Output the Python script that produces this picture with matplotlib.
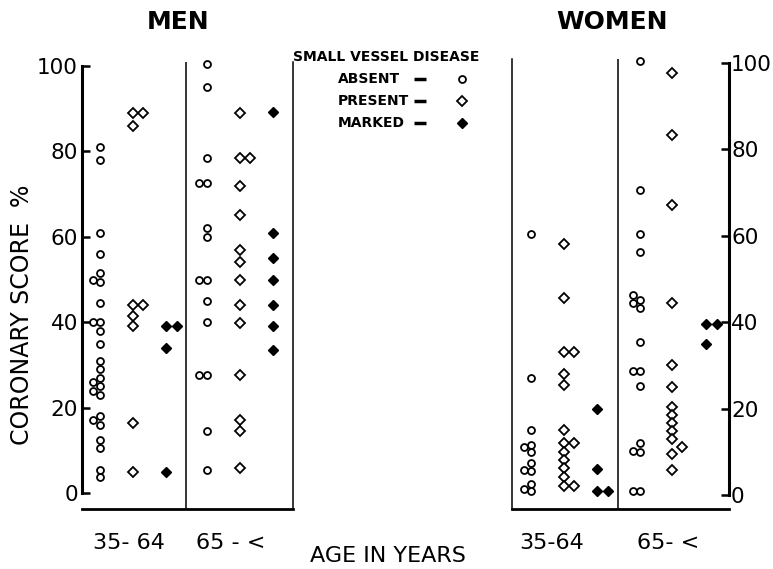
import matplotlib
matplotlib.use("Agg")
import matplotlib.pyplot as plt

W, H, DPI = 773, 569, 100

# ---------------- data (coronary score %) ----------------
panels = ["MEN", "WOMEN"]
men_age_labels = ["35- 64", "65 - <"]
women_age_labels = ["35-64", "65- <"]
legend_title = "SMALL VESSEL DISEASE"
legend_labels = ["ABSENT", "PRESENT", "MARKED"]
y_ticks = [0, 20, 40, 60, 80, 100]

men_young_absent = [81, 78, 61, 56, 51.5, 50, 49.5, 44.5, 40, 40, 38, 35, 31, 29,
                    27, 26, 25, 24, 23, 18, 17, 16, 12.5, 10.5, 5.5, 3.8]
men_young_present = [89, 89, 86, 44, 44, 41.5, 39, 16.5, 5]
men_young_marked = [39, 39, 34, 5]

men_old_absent = [100.5, 95, 78.5, 72.5, 72.5, 62, 60, 50, 50, 45, 40, 27.6, 27.6, 14.6, 5.5]
men_old_present = [89, 78.5, 78.5, 72, 65, 57, 54, 50, 44, 39.7, 27.6, 17, 14.5, 5.8]
men_old_marked = [89.3, 60.8, 55, 50, 44, 39, 33.5]

women_young_absent = [60.5, 27, 15, 11.6, 11.2, 10, 7.3, 5.9, 5.6, 2.5, 1.3, 1.0]
women_young_present = [58, 45.5, 33, 33, 28, 25.5, 15, 12, 12, 10, 8.1, 6.2, 4.2, 2, 2]
women_young_marked = [19.8, 6, 1, 1]

women_old_absent = [100.5, 70.5, 60.5, 56.3, 46.3, 45.1, 44.5, 43.4, 35.5, 28.8, 28.8,
                    25.2, 12, 10.3, 10, 1, 1]
women_old_present = [97.8, 83.3, 67.1, 44.5, 30, 25, 20.4, 18.5, 16.6, 14.7, 12.9,
                     11.2, 9.5, 5.9]
women_old_marked = [39.5, 39.5, 35]

# ---------------- styles ----------------
STY = {
    "absent": dict(marker="o", ms=5.0, mfc="white", mec="black", mew=1.3),
    "present": dict(marker="D", ms=5.0, mfc="white", mec="black", mew=1.3),
    "marked": dict(marker="D", ms=5.6, mfc="black", mec="black", mew=1.0),
}
SIDE = {"absent": -7.5, "present": 10.0, "marked": 11.0}
THR = {"absent": 6.0, "present": 7.5, "marked": 8.5}
TICK_FS = 15.5

fig = plt.figure(figsize=(W / DPI, H / DPI), dpi=DPI)
fig.patch.set_facecolor("white")


def make_axes(left_px, right_px, y0_px, y100_px, bottom_px, top_val):
    ppu = (y0_px - y100_px) / 100.0
    ymin = -(bottom_px - y0_px) / ppu
    top_px = y0_px - top_val * ppu
    ax = fig.add_axes([left_px / W, (H - bottom_px) / H,
                       (right_px - left_px) / W, (bottom_px - top_px) / H])
    ax.set_xlim(0, right_px - left_px)
    ax.set_ylim(ymin, top_val)
    ax.patch.set_alpha(0)
    return ax, ppu


def swarm(ax, values, base_x, kind, ppu):
    dx = SIDE[kind]
    thr = THR[kind]
    placed = []
    xs = [0.0] * len(values)
    for i in sorted(range(len(values)), key=lambda j: values[j]):
        v = values[i]
        k = 0
        while True:
            x = base_x + k * dx
            hit = any(abs(x - px) < abs(dx) * 0.5 and abs(v - pv) * ppu < thr
                      for px, pv in placed)
            if not hit:
                break
            k += 1
        placed.append((x, v))
        xs[i] = x
    ax.plot(xs, values, linestyle="none", clip_on=False, zorder=3, **STY[kind])


# ---------------- men ----------------
axm, ppm = make_axes(82, 293, 493, 66, 509, 101)
axm.spines["top"].set_visible(False)
axm.spines["left"].set_bounds(0, 100)
axm.spines["left"].set_linewidth(2.2)
axm.spines["bottom"].set_linewidth(2.0)
axm.spines["right"].set_linewidth(1.1)
axm.axvline(104, color="black", lw=1.1)
axm.set_yticks(y_ticks)
axm.set_yticklabels([str(t) for t in y_ticks])
axm.tick_params(axis="y", direction="in", length=6, width=1.8, labelsize=TICK_FS, pad=3,
                left=True, right=False)
axm.set_xticks([47, 149])
axm.set_xticklabels(men_age_labels)
axm.tick_params(axis="x", length=0, labelsize=16, pad=17)

swarm(axm, men_young_absent, 18, "absent", ppm)
swarm(axm, men_young_present, 51, "present", ppm)
swarm(axm, men_young_marked, 84, "marked", ppm)
swarm(axm, men_old_absent, 125, "absent", ppm)
swarm(axm, men_old_present, 158, "present", ppm)
swarm(axm, men_old_marked, 191, "marked", ppm)

# ---------------- women ----------------
axw, ppw = make_axes(512, 729, 495, 63, 509, 101)
axw.spines["top"].set_visible(False)
axw.spines["right"].set_bounds(0, 100)
axw.spines["right"].set_linewidth(2.2)
axw.spines["bottom"].set_linewidth(2.0)
axw.spines["left"].set_linewidth(1.1)
axw.axvline(106, color="black", lw=1.1)
axw.yaxis.tick_right()
axw.set_yticks(y_ticks)
axw.set_yticklabels([str(t) for t in y_ticks])
axw.tick_params(axis="y", direction="in", length=6, width=1.8, labelsize=TICK_FS, pad=1.5,
                left=False, right=True)
axw.set_xticks([40, 156])
axw.set_xticklabels(women_age_labels)
axw.tick_params(axis="x", length=0, labelsize=16, pad=17)

swarm(axw, women_young_absent, 19, "absent", ppw)
swarm(axw, women_young_present, 52, "present", ppw)
swarm(axw, women_young_marked, 85, "marked", ppw)
swarm(axw, women_old_absent, 128, "absent", ppw)
swarm(axw, women_old_present, 160, "present", ppw)
swarm(axw, women_old_marked, 194, "marked", ppw)

# ---------------- overlay for texts / legend ----------------
ov = fig.add_axes([0, 0, 1, 1])
ov.set_xlim(0, W)
ov.set_ylim(H, 0)
ov.axis("off")
ov.patch.set_alpha(0)

ov.text(178, 22, panels[0], ha="center", va="center", fontsize=18, fontweight="bold")
ov.text(612, 22, panels[1], ha="center", va="center", fontsize=18, fontweight="bold")
ov.text(22, 315, "CORONARY SCORE  %", rotation=90, ha="center", va="center", fontsize=17)
ov.text(388, 556, "AGE IN YEARS", ha="center", va="center", fontsize=16)

ov.text(386, 57, legend_title, ha="center", va="center", fontsize=10, fontweight="bold")
leg_y = [79, 101, 123]
for lab, yy, kind in zip(legend_labels, leg_y, ["absent", "present", "marked"]):
    ov.text(338, yy, lab, ha="left", va="center", fontsize=10, fontweight="bold")
    ov.plot([414, 426], [yy, yy], color="black", lw=2.5, solid_capstyle="butt")
    ov.plot([462], [yy], linestyle="none", **STY[kind])

fig.savefig("out.png", dpi=DPI, facecolor="white")
